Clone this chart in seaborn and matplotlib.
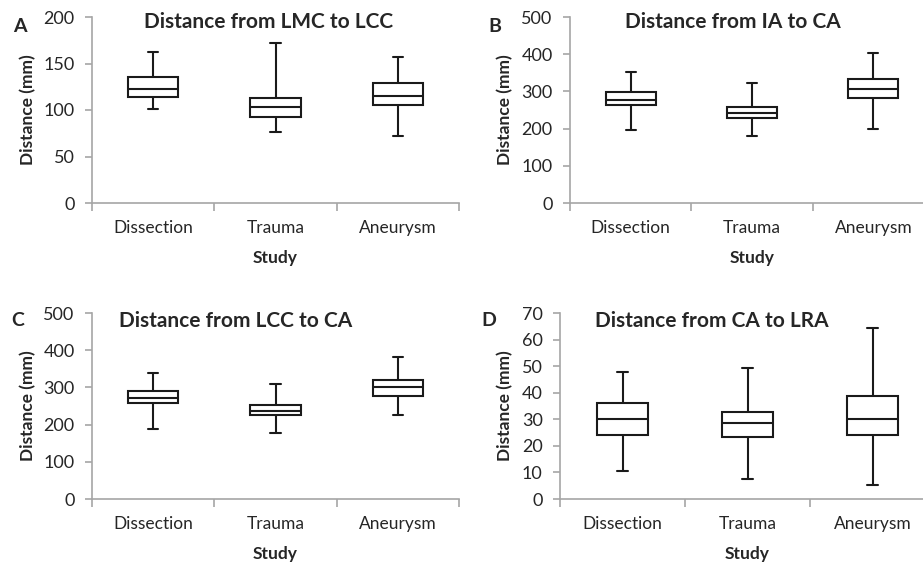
import matplotlib
matplotlib.use("Agg")
import matplotlib.pyplot as plt
import seaborn as sns
import pandas as pd
from matplotlib.ticker import FixedLocator

# ---- data (five-number summaries: min, Q1, median, Q3, max) ----
studies = ["Dissection", "Trauma", "Aneurysm"]

lmc_lcc = {
    "Dissection": [101, 114, 122.5, 136, 162.5],
    "Trauma": [76, 92.5, 103.5, 112.5, 172],
    "Aneurysm": [72, 105.5, 115.5, 129.5, 156.5],
}
ia_ca = {
    "Dissection": [195, 264, 278, 299, 351],
    "Trauma": [181, 229, 243, 258, 322],
    "Aneurysm": [199, 281, 307, 332, 403],
}
lcc_ca = {
    "Dissection": [189, 258.5, 271, 290, 338],
    "Trauma": [178, 227, 237, 254, 309],
    "Aneurysm": [227, 277, 300, 321, 382],
}
ca_lra = {
    "Dissection": [10.5, 24.0, 30.1, 36.3, 47.9],
    "Trauma": [7.6, 23.3, 28.7, 32.9, 49.3],
    "Aneurysm": [5.1, 24.0, 30.1, 38.6, 64.2],
}

titles = ["Distance from LMC to LCC", "Distance from IA to CA",
          "Distance from LCC to CA", "Distance from CA to LRA"]
letters = ["A", "B", "C", "D"]
ylims = [200, 500, 500, 70]
ysteps = [50, 100, 100, 10]
panels = [lmc_lcc, ia_ca, lcc_ca, ca_lra]

W, H = 923, 564
sns.set_theme(style="white")
plt.rcParams["font.family"] = ["Lato", "DejaVu Sans"]

fig = plt.figure(figsize=(W / 100, H / 100), dpi=100)

# axes boxes in pixels: left, right, top, bottom
boxes = [(92, 459, 17, 203), (570, 934, 17, 203),
         (92, 459, 313, 499), (560, 935, 313, 499)]
title_pos = [(269, 22), (733, 22), (236, 321), (712, 321)]
letter_pos = [(20, 26), (495, 26), (18, 320), (489, 320)]
ylabel_x = [28, 505, 28, 505]

spine_col = "#a6a6a6"
text_col = "#262626"


def fx(px):
    return px / W


def fy(py):
    return 1 - py / H


for i, d in enumerate(panels):
    l, r, t, b = boxes[i]
    ax = fig.add_axes([fx(l), fy(b), (r - l) / W, (b - t) / H])
    df = pd.DataFrame(
        [(s, v) for s in studies for v in d[s]], columns=["Study", "Distance"]
    )
    sns.boxplot(
        data=df, x="Study", y="Distance", order=studies, ax=ax,
        whis=(0, 100), width=0.41, color="white", linecolor="#1a1a1a",
        linewidth=1.5, capwidths=0.085, showfliers=False,
    )
    ax.set_xlim(-0.5, 2.5)
    ax.set_ylim(0, ylims[i])
    ax.set_yticks(list(range(0, ylims[i] + 1, ysteps[i])))
    ax.xaxis.set_minor_locator(FixedLocator([-0.5, 0.5, 1.5, 2.5]))
    ax.tick_params(axis="x", which="major", length=0, pad=12,
                   labelsize=12.5, labelcolor=text_col)
    ax.tick_params(axis="x", which="minor", length=6, width=1.2,
                   color=spine_col, direction="out", bottom=True)
    ax.tick_params(axis="y", which="major", length=5, width=1.2,
                   color=spine_col, direction="out", left=True, pad=7.5,
                   labelsize=13, labelcolor=text_col)
    for s in ["top", "right"]:
        ax.spines[s].set_visible(False)
    for s in ["left", "bottom"]:
        ax.spines[s].set_color(spine_col)
        ax.spines[s].set_linewidth(1.2)

    ax.set_xlabel("Study", fontsize=12.5, fontweight="bold", color=text_col,
                  va="center")
    ax.xaxis.set_label_coords(fx((l + r) / 2), fy(258 + (t - 17)),
                              transform=fig.transFigure)
    ax.set_ylabel("Distance (mm)", fontsize=12.5, fontweight="bold",
                  color=text_col, va="center")
    ax.yaxis.set_label_coords(fx(ylabel_x[i]), fy((t + b) / 2),
                              transform=fig.transFigure)

    fig.text(fx(title_pos[i][0]), fy(title_pos[i][1]), titles[i],
             fontsize=15, fontweight="bold", color=text_col,
             ha="center", va="center")
    fig.text(fx(letter_pos[i][0]), fy(letter_pos[i][1]), letters[i],
             fontsize=14, fontweight="bold", color=text_col,
             ha="center", va="center")

fig.savefig("out.png", dpi=100)
